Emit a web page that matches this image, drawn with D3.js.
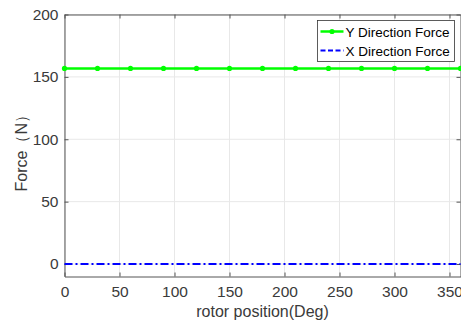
<!DOCTYPE html>
<html>
<head>
<meta charset="utf-8">
<script src="https://cdn.jsdelivr.net/npm/d3@7"></script>
<style>
  body { margin: 0; background: #fff; }
  text { font-family: "Liberation Sans", Arial, sans-serif; }
</style>
</head>
<body>
<svg id="chart"></svg>
<script>
const width = 461;
const height = 327;

// data
const angles = [0, 30, 60, 90, 120, 150, 180, 210, 240, 270, 300, 330, 360];
const yForce = [156.8, 156.8, 156.8, 156.8, 156.8, 156.8, 156.8, 156.8, 156.8, 156.8, 156.8, 156.8, 156.8];
const xForce = [0, 0, 0, 0, 0, 0, 0, 0, 0, 0, 0, 0, 0];
const xTicks = [0, 50, 100, 150, 200, 250, 300, 350];
const yTicks = [0, 50, 100, 150, 200];

const margin = {left: 64.5, right: 0.5, top: 14.5, bottom: 50.5};

const svg = d3.select("#chart")
    .attr("width", width)
    .attr("height", height);

const x = d3.scaleLinear().domain([0, 360]).range([margin.left, width - margin.right]);
const y = d3.scaleLinear().domain([-10, 200]).range([height - margin.bottom, margin.top]);

// grid
svg.append("g")
    .selectAll("line")
    .data(xTicks)
    .enter().append("line")
    .attr("x1", d => x(d)).attr("x2", d => x(d))
    .attr("y1", y(-10)).attr("y2", y(200))
    .attr("stroke", "#e8e8e8");
svg.append("g")
    .selectAll("line")
    .data(yTicks)
    .enter().append("line")
    .attr("x1", x(0)).attr("x2", x(360))
    .attr("y1", d => y(d)).attr("y2", d => y(d))
    .attr("stroke", "#e8e8e8");

// axes (ticks inward, box)
const axisColor = "#3a3a3a";
function styleAxis(g) {
    g.select(".domain").attr("stroke", "#555");
    g.selectAll(".tick line").attr("stroke", "#555");
    g.selectAll(".tick text").attr("fill", axisColor).style("font-size", "15.5px");
}

svg.append("g")
    .attr("transform", `translate(0,${y(-10)})`)
    .call(d3.axisBottom(x).tickValues(xTicks).tickSizeInner(-4).tickSizeOuter(0).tickPadding(9))
    .call(styleAxis);
svg.append("g")
    .attr("transform", `translate(${x(0)},0)`)
    .call(d3.axisLeft(y).tickValues(yTicks).tickSizeInner(-4).tickSizeOuter(0).tickPadding(6))
    .call(styleAxis);
svg.append("g")
    .attr("transform", `translate(0,${y(200)})`)
    .call(d3.axisTop(x).tickValues(xTicks).tickSizeInner(-4).tickSizeOuter(0).tickFormat(""))
    .call(styleAxis);
svg.append("g")
    .attr("transform", `translate(${x(360)},0)`)
    .call(d3.axisRight(y).tickValues(yTicks).tickSizeInner(-4).tickSizeOuter(0).tickFormat(""))
    .call(styleAxis);

// series
const line = d3.line()
    .x((d, i) => x(angles[i]))
    .y(d => y(d));

svg.append("path")
    .datum(yForce)
    .attr("fill", "none")
    .attr("stroke", "#00ff00")
    .attr("stroke-width", 2.5)
    .attr("d", line);

svg.append("g")
    .selectAll("circle")
    .data(yForce)
    .enter().append("circle")
    .attr("cx", (d, i) => x(angles[i]))
    .attr("cy", d => y(d))
    .attr("r", 2.6)
    .attr("fill", "#00ff00");

svg.append("path")
    .datum(xForce)
    .attr("fill", "none")
    .attr("stroke", "#0000ff")
    .attr("stroke-width", 2.2)
    .attr("stroke-dasharray", "8,3,2,3")
    .attr("d", line);

// axis labels
svg.append("text")
    .attr("x", (x(0) + x(360)) / 2)
    .attr("y", 317)
    .attr("text-anchor", "middle")
    .attr("fill", axisColor)
    .style("font-size", "16px")
    .text("rotor position(Deg)");

svg.append("text")
    .attr("transform", `translate(27,${y(92)}) rotate(-90)`)
    .attr("text-anchor", "middle")
    .attr("fill", axisColor)
    .style("font-size", "16px")
    .text("Force（N）");

// legend
const legend = svg.append("g").attr("transform", "translate(317.5,20.5)");
legend.append("rect")
    .attr("width", 137)
    .attr("height", 41)
    .attr("fill", "#fff")
    .attr("stroke", "#333")
    .attr("stroke-width", 0.8);

legend.append("line")
    .attr("x1", 3).attr("x2", 26).attr("y1", 11).attr("y2", 11)
    .attr("stroke", "#00ff00").attr("stroke-width", 2.5);
legend.append("circle")
    .attr("cx", 14.5).attr("cy", 11).attr("r", 2.6).attr("fill", "#00ff00");
legend.append("text")
    .attr("x", 28).attr("y", 16)
    .attr("fill", "#000")
    .style("font-size", "13.5px")
    .text("Y Direction Force");

legend.append("line")
    .attr("x1", 3).attr("x2", 26).attr("y1", 30).attr("y2", 30)
    .attr("stroke", "#0000ff").attr("stroke-width", 2.2)
    .attr("stroke-dasharray", "5,2.5");
legend.append("text")
    .attr("x", 28).attr("y", 35)
    .attr("fill", "#000")
    .style("font-size", "13.5px")
    .text("X Direction Force");
</script>
</body>
</html>
